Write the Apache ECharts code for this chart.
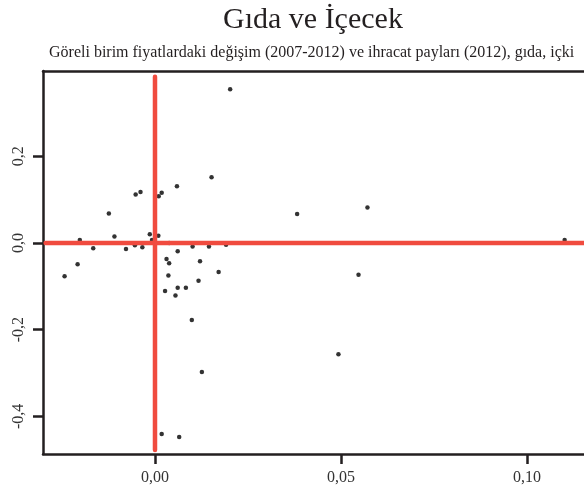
<!DOCTYPE html>
<html>
<head>
<meta charset="utf-8">
<script src="https://cdn.jsdelivr.net/npm/echarts@6/dist/echarts.min.js"></script>
<style>
  html, body { margin: 0; padding: 0; background: #fff; }
  #chart { width: 584px; height: 494px; }
</style>
</head>
<body>
<div id="chart"></div>
<script>
// Değerler (x: birim fiyat değişimi, y: ihracat payı)
const pointsX = [0.0202, 0.0152, 0.0059, 0.0018, 0.0010, -0.0039, -0.0052, -0.0124, -0.0109, -0.0202,
  -0.0014, -0.0008, 0.0009, -0.0166, -0.0078, -0.0054, -0.0034, 0.0038, 0.0061, 0.0101,
  0.0145, 0.0191, 0.0031, -0.0208, -0.0243, 0.0038, 0.0121, 0.0171, 0.0036, 0.0117,
  0.0061, 0.0083, 0.0027, 0.0055, 0.0099, 0.0126, 0.0018, 0.0065, 0.0382, 0.0571,
  0.0547, 0.0493, 0.1101];
const pointsY = [0.355, 0.152, 0.131, 0.116, 0.108, 0.118, 0.112, 0.068, 0.015, 0.007,
  0.020, 0.007, 0.017, -0.012, -0.014, -0.005, -0.010, 0.000, -0.019, -0.008,
  -0.008, -0.004, -0.037, -0.049, -0.077, -0.047, -0.042, -0.067, -0.075, -0.087,
  -0.103, -0.103, -0.111, -0.121, -0.178, -0.298, -0.441, -0.448, 0.067, 0.082,
  -0.073, -0.257, 0.007];

const xTicks = [0, 0.05, 0.10];
const xTickLabels = ['0,00', '0,05', '0,10'];
const yTicks = [-0.4, -0.2, 0, 0.2];
const yTickLabels = ['-0,4', '-0,2', '0,0', '0,2'];

// kırmızı referans çizgileri
const vLine = [[0, 0.384], [0, -0.478]];
const hLine = [[-0.0294, 0], [0.2, 0]];

const serif = '"Liberation Serif", "DejaVu Serif", serif';
const axisColor = '#231f20';

const chart = echarts.init(document.getElementById('chart'));

const scatterData = pointsX.map((x, i) => [x, pointsY[i]]);

const option = {
    backgroundColor: '#fff',
    animation: false,
    title: [
        {
            text: 'Gıda ve İçecek',
            left: 218, top: 0,
            textStyle: { fontFamily: serif, fontSize: 30, fontWeight: 'normal', color: '#231f20' }
        },
        {
            text: 'Göreli birim fiyatlardaki değişim (2007-2012) ve ihracat payları (2012), gıda, içki',
            left: 44, top: 40,
            textStyle: { fontFamily: serif, fontSize: 16, fontWeight: 'normal', color: '#231f20' }
        }
    ],
    grid: { left: 43, right: 0, top: 71, bottom: 40 },
    xAxis: [
        {
            type: 'value',
            min: -0.0301, max: 0.1153,
            splitLine: { show: false },
            axisLine: { show: true, onZero: false, lineStyle: { color: axisColor, width: 2.5 } },
            axisTick: { show: true, customValues: xTicks, length: 10, lineStyle: { color: axisColor, width: 2.5 } },
            axisLabel: {
                customValues: xTicks,
                formatter: v => xTickLabels[xTicks.findIndex(t => Math.abs(t - v) < 1e-9)] || '',
                fontFamily: serif, fontSize: 16, color: '#333', margin: 16
            }
        },
        {
            type: 'value', position: 'top',
            min: -0.0301, max: 0.1153,
            splitLine: { show: false },
            axisLine: { show: true, onZero: false, lineStyle: { color: axisColor, width: 2.5 } },
            axisTick: { show: false },
            axisLabel: { show: false }
        }
    ],
    yAxis: {
        type: 'value',
        min: -0.487, max: 0.397,
        splitLine: { show: false },
        axisLine: { show: true, onZero: false, lineStyle: { color: axisColor, width: 2.5 } },
        axisTick: { show: true, customValues: yTicks, length: 10, lineStyle: { color: axisColor, width: 2.5 } },
        axisLabel: {
            customValues: yTicks,
            formatter: v => yTickLabels[yTicks.findIndex(t => Math.abs(t - v) < 1e-9)] || '',
            rotate: 90,
            fontFamily: serif, fontSize: 16, color: '#333', margin: 16
        }
    },
    series: [
        {
            type: 'scatter',
            data: scatterData,
            symbolSize: 4.5,
            itemStyle: { color: '#000' },
            z: 2
        },
        {
            type: 'line',
            data: vLine,
            symbol: 'none',
            lineStyle: { color: '#f04b3f', width: 4.5, cap: 'round' },
            z: 3
        },
        {
            type: 'line',
            data: hLine,
            symbol: 'none',
            clip: true,
            lineStyle: { color: '#f04b3f', width: 4.5, cap: 'round' },
            z: 3
        }
    ]
};

chart.setOption(option);
</script>
</body>
</html>
